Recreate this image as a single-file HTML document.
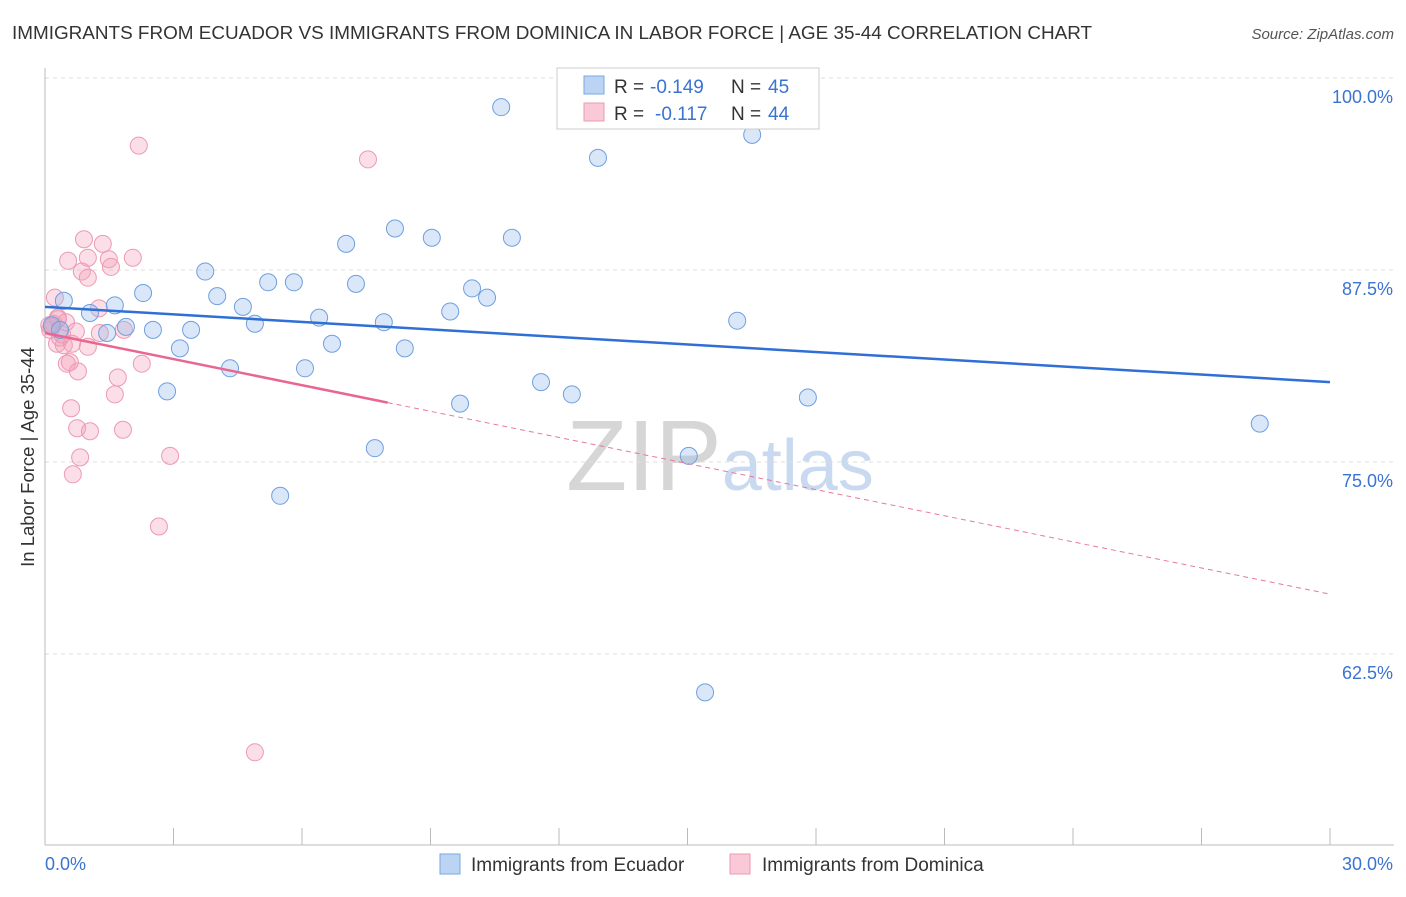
<!DOCTYPE html>
<html><head><meta charset="utf-8"><style>
body{margin:0;background:#fff;font-family:"Liberation Sans",sans-serif;}
svg text{font-family:"Liberation Sans",sans-serif;}
</style></head><body>
<svg id="chart" width="1406" height="892" viewBox="0 0 1406 892">
<text x="12" y="39" font-size="18.9" fill="#333">IMMIGRANTS FROM ECUADOR VS IMMIGRANTS FROM DOMINICA IN LABOR FORCE | AGE 35-44 CORRELATION CHART</text>
<text x="1394" y="39" font-size="15" fill="#555" text-anchor="end" font-style="italic">Source: ZipAtlas.com</text>
<text x="720" y="490" font-size="100" text-anchor="middle" fill="#ddd" font-family="Liberation Serif"><tspan fill="#d6d6d6">ZIP</tspan><tspan fill="#c9daf0" font-family="Liberation Sans" font-size="72">atlas</tspan></text>
<g id="grid"></g><g id="marks"></g>
<text transform="translate(34,457) rotate(-90)" font-size="18.5" fill="#333" text-anchor="middle">In Labor Force | Age 35-44</text>
<g>
<rect x="557" y="68" width="262" height="61" fill="#fff" stroke="#ccc"/>
<rect x="584" y="76" width="20" height="18" fill="#bcd4f3" stroke="#7aa7e0"/>
<rect x="584" y="103" width="20" height="18" fill="#f9c9d7" stroke="#ec9ab2"/>
<text x="614" y="93" font-size="19" fill="#333">R =</text>
<text x="650" y="93" font-size="19" fill="#3b73d1">-0.149</text>
<text x="731" y="93" font-size="19" fill="#333">N =</text>
<text x="768" y="93" font-size="19" fill="#3b73d1">45</text>
<text x="614" y="120" font-size="19" fill="#333">R =</text>
<text x="655" y="120" font-size="19" fill="#3b73d1">-0.117</text>
<text x="731" y="120" font-size="19" fill="#333">N =</text>
<text x="768" y="120" font-size="19" fill="#3b73d1">44</text>
</g>
<g>
<rect x="440" y="854" width="20" height="20" fill="#bcd4f3" stroke="#7aa7e0"/>
<text x="471" y="871" font-size="19" fill="#333">Immigrants from Ecuador</text>
<rect x="730" y="854" width="20" height="20" fill="#f9c9d7" stroke="#ec9ab2"/>
<text x="762" y="871" font-size="19" fill="#333">Immigrants from Dominica</text>
</g>
</svg>
<script>
const yTicks=[100,87.5,75,62.5];
const yTickLabels=["100.0%","87.5%","75.0%","62.5%"];
const xTickLabels=["0.0%","30.0%"];
const ecuadorX=[0.44,1.05,1.45,1.63,1.89,2.29,2.52,2.85,3.15,3.41,3.74,4.02,4.32,4.62,4.90,5.21,5.49,5.81,6.07,6.40,6.70,7.03,7.26,7.70,7.91,8.17,8.40,9.03,9.46,9.69,9.97,10.32,10.65,10.90,11.58,12.30,12.91,15.03,15.41,16.16,16.51,17.81,28.36,0.16,0.35];
const ecuadorY=[85.5,84.7,83.4,85.2,83.8,86.0,83.6,79.6,82.4,83.6,87.4,85.8,81.1,85.1,84.0,86.7,72.8,86.7,81.1,84.4,82.7,89.2,86.6,75.9,84.1,90.2,82.4,89.6,84.8,78.8,86.3,85.7,98.1,89.6,80.2,79.4,94.8,75.4,60.0,84.2,96.3,79.2,77.5,83.9,83.6];
const dominicaX=[2.19,7.54,0.91,1.35,1.00,0.54,1.49,2.05,1.54,0.86,1.00,0.23,1.26,0.30,0.49,0.16,0.72,1.28,1.84,0.28,0.44,0.63,1.00,0.58,0.51,0.77,2.26,1.70,1.63,0.61,0.75,1.05,1.82,2.92,0.82,0.65,2.66,4.90,0.12,0.35,0.20,0.40,0.10,0.30];
const dominicaY=[95.6,94.7,89.5,89.2,88.3,88.1,88.2,88.3,87.7,87.4,87.0,85.7,85.0,84.4,84.1,83.8,83.5,83.4,83.6,82.7,82.6,82.7,82.5,81.5,81.4,80.9,81.4,80.5,79.4,78.5,77.2,77.0,77.1,75.4,75.3,74.2,70.8,56.1,83.6,83.1,84.0,83.3,83.9,84.3];
const ecuadorTrend=[85.1,80.2];
const dominicaTrend=[83.4,66.4];
const dominicaSolidEnd=8.0;
const X=v=>45+v/30*1285, Y=v=>78+(100-v)*15.36;
const NS="http://www.w3.org/2000/svg";
const grid=document.getElementById('grid'), marks=document.getElementById('marks');
function mk(tag,attrs,parent){const e=document.createElementNS(NS,tag);for(const k in attrs)e.setAttribute(k,attrs[k]);parent.appendChild(e);return e;}
yTicks.forEach((t,i)=>{
  const l=mk('line',{x1:45,x2:1394,y1:Y(t),y2:Y(t),stroke:'#ddd','stroke-dasharray':'4,4'},grid);
  
  
  const tx=mk('text',{x:1393,y:Y(t)+25,'font-size':18,fill:'#3b73d1','text-anchor':'end'},grid);
  tx.textContent=yTickLabels[i];
  
  
});
const ax=mk('line',{x1:45,x2:45,y1:68,y2:845,stroke:'#bbb'},grid);


const bx=mk('line',{x1:45,x2:1394,y1:845,y2:845,stroke:'#bbb'},grid);


for(let i=1;i<=10;i++){const tk=mk('line',{x1:X(i*3),x2:X(i*3),y1:828,y2:845,stroke:'#bbb'},grid);
  
  }
xTickLabels.forEach((s,i)=>{const t=mk('text',{x:i?1393:45,y:870,'font-size':18,fill:'#3b73d1','text-anchor':i?'end':'start'},grid);t.textContent=s;
  
  });
dominicaX.forEach((x,i)=>{const c=mk('circle',{cx:X(x),cy:Y(dominicaY[i]),r:8.5,fill:'rgba(244,160,186,0.35)',stroke:'#ec9ab2','stroke-width':1},marks);
  
  });
ecuadorX.forEach((x,i)=>{const c=mk('circle',{cx:X(x),cy:Y(ecuadorY[i]),r:8.5,fill:'rgba(150,185,235,0.35)',stroke:'#6f9fe0','stroke-width':1},marks);
  
  });
const yd=v=>dominicaTrend[0]+(dominicaTrend[1]-dominicaTrend[0])*v/30;
const pd=mk('line',{x1:X(dominicaSolidEnd),y1:Y(yd(dominicaSolidEnd)),x2:X(30),y2:Y(dominicaTrend[1]),stroke:'#e8799c','stroke-width':1,'stroke-dasharray':'5,4'},marks);


const ps=mk('line',{x1:X(0),y1:Y(dominicaTrend[0]),x2:X(dominicaSolidEnd),y2:Y(yd(dominicaSolidEnd)),stroke:'#e8668f','stroke-width':2.5},marks);


const bl=mk('line',{x1:X(0),y1:Y(ecuadorTrend[0]),x2:X(30),y2:Y(ecuadorTrend[1]),stroke:'#2f6fd6','stroke-width':2.5},marks);


</script>
</body></html>
